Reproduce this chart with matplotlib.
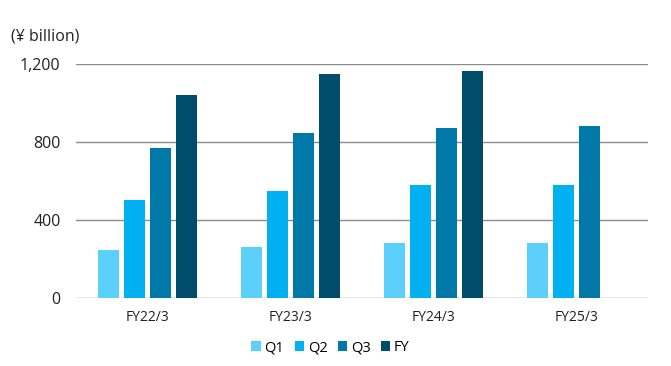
import numpy as np
import matplotlib.pyplot as plt

plt.rcParams['font.family'] = ['Open Sans', 'DejaVu Sans']

# values (¥ billion), cumulative by quarter
years = ['FY22/3', 'FY23/3', 'FY24/3', 'FY25/3']
q1 = [246, 261, 281, 281]
q2 = [501, 548, 578, 578]
q3 = [769, 846, 870, 882]
fy = [1040, 1146, 1162, None]

series = [('Q1', q1, '#5ccffa'), ('Q2', q2, '#00b0f0'),
          ('Q3', q3, '#0079a8'), ('FY', fy, '#004c6b')]

fig = plt.figure(figsize=(6.71, 3.66), dpi=100)
ax = fig.add_axes([0.113, 0.186, 0.853, 0.640])

x = np.arange(len(years))
width = 0.147
step = 0.182
for i, (name, vals, color) in enumerate(series):
    xs = [xi + (i - 1.5) * step for xi, v in zip(x, vals) if v is not None]
    hs = [v for v in vals if v is not None]
    ax.bar(xs, hs, width=width, color=color, label=name, zorder=3)

ax.set_xlim(-0.5, len(years) - 0.5)
ax.set_ylim(0, 1200)
ax.set_yticks([0, 400, 800, 1200])
ax.set_yticklabels(['0', '400', '800', '1,200'])
ax.set_xticks(x)
ax.set_xticklabels(years)
ax.yaxis.grid(True, color='#8c8c8c', lw=1)
ax.set_axisbelow(True)
for s in ax.spines.values():
    s.set_visible(False)
ax.tick_params(axis='y', length=0, pad=11, labelsize=11.5, colors='#222222')
ax.tick_params(axis='x', length=0, pad=9, labelsize=10, colors='#222222')

fig.text(0.016, 0.90, '(¥ billion)', fontsize=11.5, color='#222222', va='center')

ax.legend(loc='upper center', bbox_to_anchor=(0.445, -0.155), ncol=4, frameon=False,
          fontsize=10.5, handlelength=0.65, handleheight=0.65, handletextpad=0.25,
          columnspacing=0.7, borderaxespad=0)

fig.savefig('out.png', dpi=100)
